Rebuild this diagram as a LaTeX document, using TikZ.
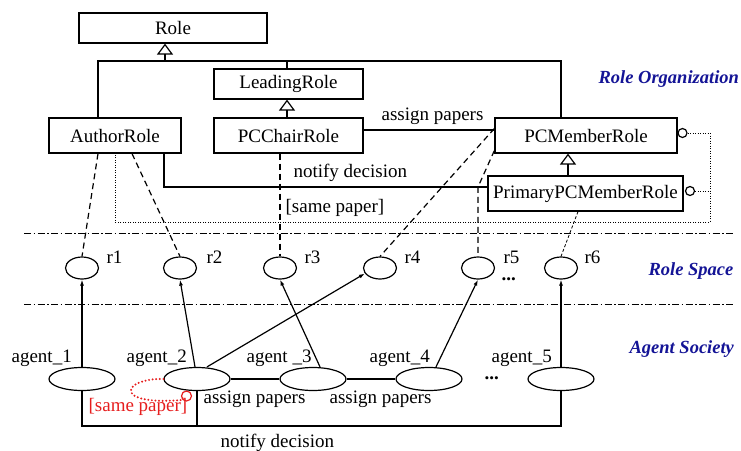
\documentclass[tikz,border=0pt]{standalone}
\usepackage{fontspec}
\setmainfont{Liberation Serif}
\usetikzlibrary{arrows.meta,shapes.geometric}
\definecolor{lblue}{RGB}{20,20,150}
\definecolor{lred}{RGB}{230,30,30}
\begin{document}
\begin{tikzpicture}[x=1pt,y=-1pt, line width=1.2pt,
  font=\fontsize{19}{21}\selectfont,
  cls/.style={draw, rectangle, inner sep=0pt, minimum height=35pt},
  rol/.style={draw, ellipse, inner sep=0pt, minimum width=33pt, minimum height=22pt},
  agt/.style={draw, ellipse, inner sep=0pt, minimum width=66pt, minimum height=23pt},
  lbl/.style={inner sep=0pt, anchor=base west},
  layer/.style={inner sep=0pt, anchor=base west, text=lblue, font=\fontsize{18.5}{20}\selectfont\bfseries\itshape},
  sep/.style={line width=0.7pt, dash pattern=on 7pt off 2.5pt on 1.5pt off 2.5pt},
  dsh/.style={dash pattern=on 6pt off 4pt},
  dot/.style={line width=0.7pt, dash pattern=on 1pt off 1.5pt},
  dsh2/.style={line width=0.8pt, dash pattern=on 3pt off 2pt},
  arr/.style={-{Latex[length=6pt,width=4pt]}},
  inh/.style={-{Triangle[open,length=11pt,width=16pt]}},
  ball/.style={draw, circle, inner sep=0pt, minimum size=9pt, fill=white},
]
\useasboundingbox (0,0) rectangle (741,450);

% separators
\draw[sep] (24,233) -- (735,233);
\draw[sep] (24,304) -- (735,304);

% classes
\node[cls, minimum width=188pt, minimum height=30pt] (Role) at (173,28) {Role};
\node[cls, minimum width=149pt, minimum height=30pt] (Lead) at (288.5,84) {LeadingRole};
\node[cls, minimum width=132pt] (Author) at (115,135.5) {AuthorRole};
\node[cls, minimum width=149pt] (Chair) at (288.5,135.5) {PCChairRole};
\node[cls, minimum width=182pt] (Member) at (586,135.5) {PCMemberRole};
\node[cls, minimum width=195pt] (Prim) at (585.5,193.5) {PrimaryPCMemberRole};

\node[ball] (mc) at (682.5,133) {};
\node[ball] (pc) at (690,191) {};

% inheritance
\coordinate (hlA) at (98,61);
\coordinate (hlM) at (561,61);
\draw ([xshift=-17pt]Author.north) -- ([xshift=-17pt]Author.north |- hlA) -- (hlM) -- ([xshift=-25pt]Member.north);
\draw ([xshift=-1.5pt]Lead.north) -- ([xshift=-1.5pt]Lead.north |- hlA);
\draw[inh] ([xshift=-8pt]Role.south |- hlA) -- ([xshift=-8pt]Role.south);
\draw[inh] ([xshift=-1.5pt]Chair.north) -- ([xshift=-1.5pt]Lead.south);
\draw[inh] ([xshift=-17.5pt]Prim.north) -- ([xshift=-18pt]Member.south);

% associations
\draw ([yshift=5.5pt]Chair.east) -- ([yshift=5.5pt]Member.west);
\draw ([xshift=49pt]Author.south) |- ([yshift=6.5pt]Prim.west);

% dotted constraint loop
\coordinate (dl1) at (710,133);
\coordinate (dl2) at (710,191);
\coordinate (dl3) at (710,222);
\coordinate (dl4) at (115,222);
\draw[dot] (mc.east) -- (dl1) -- (dl3) -- (dl4) -- (Author.south);
\draw[dot] (pc.east) -- (dl2);

\node[lbl] (tAssign) at (381,120) {assign papers};
\node[lbl] (tNotify) at (293,177) {notify decision};
\node[lbl] (tSame) at (285,212) {[same paper]};

% role space
\node[rol] (r1) at (82,268) {};
\node[rol] (r2) at (180,268) {};
\node[rol] (r3) at (280,268) {};
\node[rol] (r4) at (380,268) {};
\node[rol] (r5) at (478,268) {};
\node[rol] (r6) at (561,268) {};
\node[lbl] (tr1) at (106,263) {r1};
\node[lbl] (tr2) at (206,263) {r2};
\node[lbl] (tr3) at (304,263) {r3};
\node[lbl] (tr4) at (404,263) {r4};
\node[lbl] (tr5) at (503,263) {r5};
\node[lbl] (tr6) at (584,263) {r6};
\node[lbl, font=\fontsize{19}{21}\selectfont\bfseries] (d1) at (501,280) {...};

% role -> role space
\draw[dsh] ([xshift=-17pt]Author.south) -- (r1.north);
\draw[dsh] ([xshift=17pt]Author.south) -- (r2.north);
\draw[dsh] ([xshift=-8.5pt]Chair.south) -- (r3.north);
\draw[dsh] ([yshift=7pt]Member.west) -- (r4.north);
\coordinate (k5) at (478,187);
\draw[dsh] ([yshift=-15pt]Member.west) -- (k5) -- (r5.north);
\draw[dsh2] ([xshift=-7.5pt]Prim.south) -- (r6.north);

% agents
\node[agt] (ag1) at (82,379) {};
\node[agt] (ag2) at (197,379) {};
\node[agt] (ag3) at (313,379) {};
\node[agt] (ag4) at (429,379) {};
\node[agt] (ag5) at (561,379) {};
\node[lbl] (ta1) at (11,362) {agent\_1};
\node[lbl] (ta2) at (126,362) {agent\_2};
\node[lbl] (ta3) at (246,362) {agent \_3};
\node[lbl] (ta4) at (369,362) {agent\_4};
\node[lbl] (ta5) at (491,362) {agent\_5};
\node[lbl, font=\fontsize{19}{21}\selectfont\bfseries] (d2) at (484,379) {...};

\draw[arr] (ag1.north) -- (r1.south);
\draw[arr] ([xshift=-2pt]ag2.north) -- (r2.south);
\draw[arr] ([xshift=10pt]ag2.north) -- (r4.200);
\draw[arr] ([xshift=7pt]ag3.north) -- (r3.south);
\draw[arr] ([xshift=7pt]ag4.north) -- (r5.south);
\draw[arr] (ag5.north) -- (r6.south);

\draw (ag2.east) -- (ag3.west);
\draw (ag3.east) -- (ag4.west);
\node[lbl] (tas1) at (203,403) {assign papers};
\node[lbl] (tas2) at (329,403) {assign papers};

\coordinate (bot) at (0,426);
\draw (ag1.south) -- (ag1.south |- bot) -- (ag5.south |- bot) -- (ag5.south);
\draw (ag2.south) -- (ag2.south |- bot);
\node[lbl] (tnd) at (220,447) {notify decision};

% red self constraint
\node[draw=lred, circle, inner sep=0pt, minimum width=10pt, line width=1.2pt] (rc) at (186.5,396) {};
\draw[lred, line width=2.2pt, line cap=round, dash pattern=on 0pt off 3.6pt]
  (ag2.west) .. controls (122,378) and (112,406) .. (rc.south west);
\node[lbl, text=lred] (tsp) at (88,411) {[same paper]};

% layer labels
\node[layer] (LO) at (598,83) {Role Organization};
\node[layer] (LS) at (648,275) {Role Space};
\node[layer] (LA) at (629,353) {Agent Society};
\end{tikzpicture}
\end{document}
